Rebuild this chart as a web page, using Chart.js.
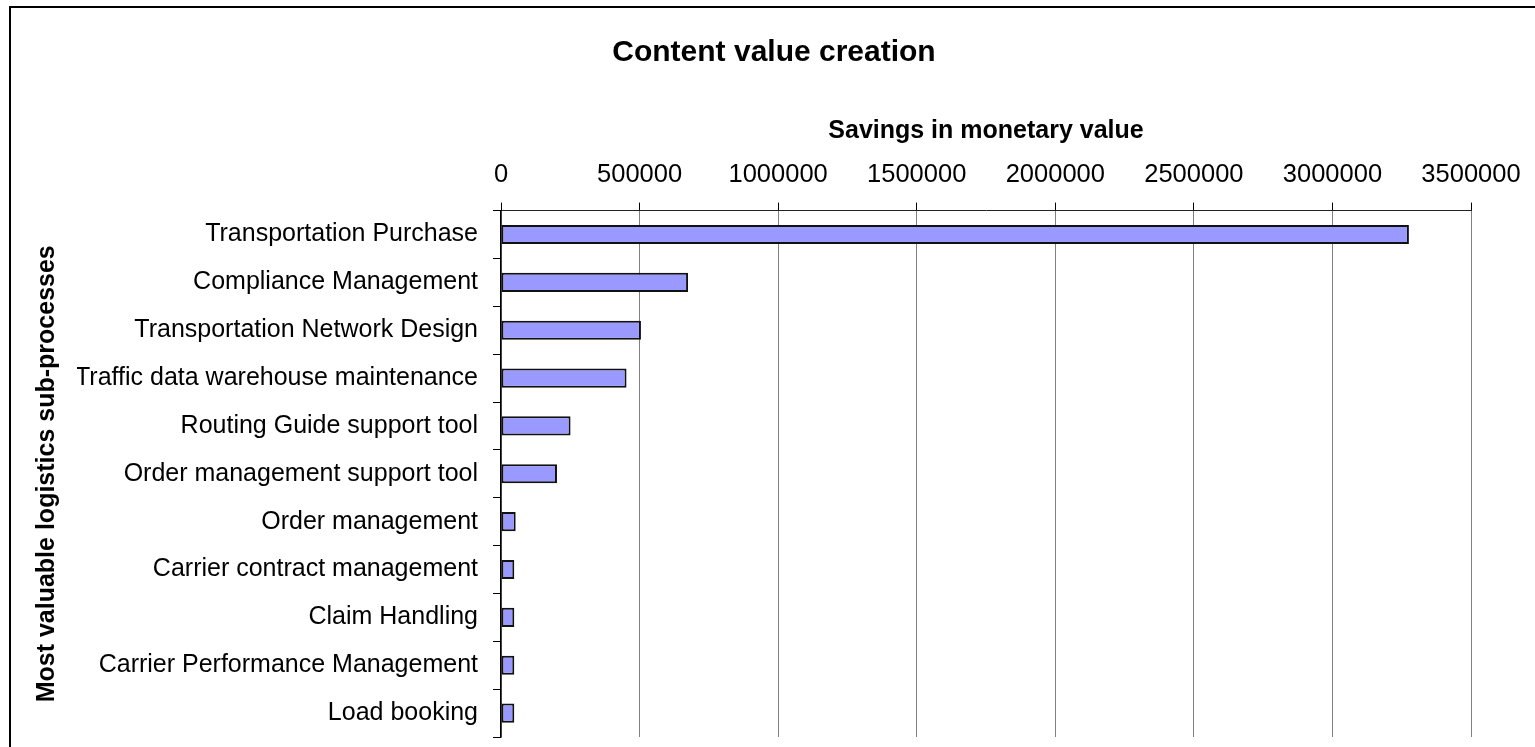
<!DOCTYPE html>
<html lang="en">
<head>
    <meta charset="UTF-8">
    <title>Content value creation</title>
    <script src="https://cdn.jsdelivr.net/npm/chart.js"></script>
    <style>
        html, body {
            margin: 0;
            padding: 0;
            background: #fff;
            overflow: hidden;
            font-family: "Liberation Sans", Arial, sans-serif;
        }
        #frame {
            position: absolute;
            left: 9px;
            top: 6px;
            border: 2px solid #000;
            width: 1526px;
            height: 759px;
        }
        canvas {
            display: block;
        }
    </style>
</head>
<body>
    <div id="frame">
        <canvas id="savingsChart" width="1526" height="759"></canvas>
    </div>

    <script>
        const subProcesses = [
            'Transportation Purchase',
            'Compliance Management',
            'Transportation Network Design',
            'Traffic data warehouse maintenance',
            'Routing Guide support tool',
            'Order management support tool',
            'Order management',
            'Carrier contract management',
            'Claim Handling',
            'Carrier Performance Management',
            'Load booking'
        ];
        const savings = [3276000, 675000, 505000, 453000, 251000, 202000, 53000, 48000, 48000, 48000, 48000];
        const savingsTicks = [0, 500000, 1000000, 1500000, 2000000, 2500000, 3000000, 3500000];

        const FONT = '"Liberation Sans", Arial, sans-serif';

        const ctx = document.getElementById('savingsChart').getContext('2d');
        new Chart(ctx, {
            type: 'bar',
            data: {
                labels: subProcesses,
                datasets: [{
                    label: 'Savings',
                    data: savings,
                    backgroundColor: '#9999ff',
                    borderColor: '#111',
                    borderWidth: 2,
                    borderSkipped: false,
                    barPercentage: 0.4,
                    categoryPercentage: 1.0
                }]
            },
            options: {
                indexAxis: 'y',
                responsive: false,
                animation: false,
                // equal side padding keeps the title centred on the frame
                layout: { padding: { left: 66, right: 66, top: 0, bottom: 0 } },
                plugins: {
                    legend: { display: false },
                    tooltip: { enabled: false },
                    title: {
                        display: true,
                        text: 'Content value creation',
                        color: '#000',
                        font: { family: FONT, size: 30, weight: 'bold' },
                        padding: { top: 27, bottom: 21 }
                    }
                },
                scales: {
                    x: {
                        position: 'top',
                        min: 0,
                        max: 3500000,
                        afterBuildTicks: scale => {
                            scale.ticks = savingsTicks.map(v => ({ value: v }));
                        },
                        ticks: {
                            color: '#000',
                            padding: 12,
                            maxRotation: 0,
                            font: { family: FONT, size: 25.5 },
                            callback: v => String(v)
                        },
                        grid: {
                            color: '#808080',
                            lineWidth: 1,
                            borderDash: [2, 2],
                            tickColor: '#000',
                            tickLength: 8,
                            tickBorderDash: []
                        },
                        border: { display: true, color: '#222', width: 1 },
                        title: {
                            display: true,
                            text: 'Savings in monetary value',
                            color: '#000',
                            font: { family: FONT, size: 25, weight: 'bold' },
                            padding: { top: 24, bottom: 2 }
                        }
                    },
                    y: {
                        afterFit: scale => { scale.width = 424; },
                        ticks: {
                            color: '#000',
                            padding: 15,
                            font: { family: FONT, size: 25 }
                        },
                        grid: {
                            drawOnChartArea: false,
                            tickColor: '#000',
                            tickLength: 8,
                            offset: true
                        },
                        border: { display: true, color: '#000', width: 1.5 },
                        title: {
                            display: true,
                            text: 'Most valuable logistics sub-processes',
                            color: '#000',
                            font: { family: FONT, size: 25, weight: 'bold' },
                            // the axis title sits left of the scale box, in the side padding
                            padding: { top: -45, bottom: 0 }
                        }
                    }
                }
            }
        });
    </script>
</body>
</html>
